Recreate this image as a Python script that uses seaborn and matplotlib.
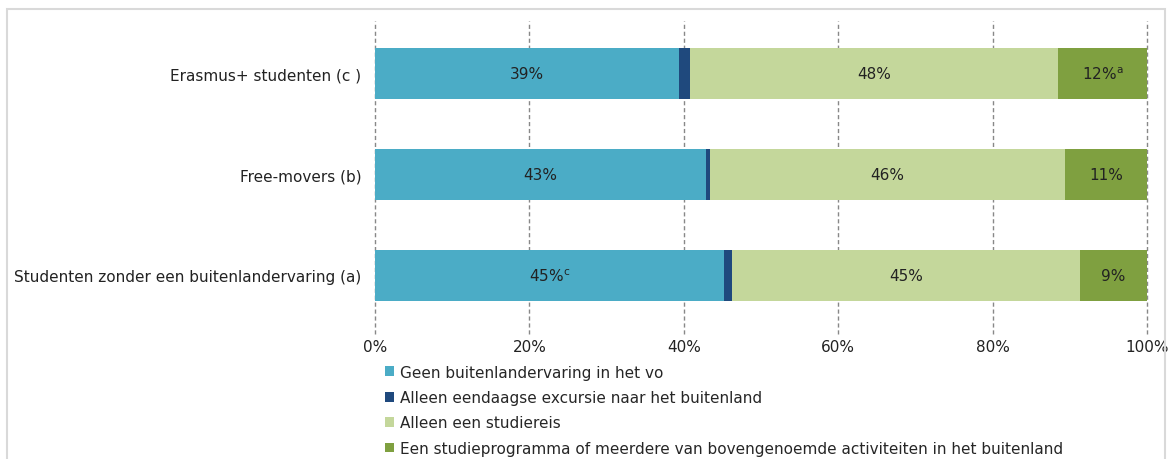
import numpy as np
import pandas as pd
import matplotlib.pyplot as plt
import seaborn as sns
from matplotlib.patches import Patch, Rectangle

# data
groepen = ["Erasmus+ studenten (c )", "Free-movers (b)", "Studenten zonder een buitenlandervaring (a)"]
categorieen = ["Geen buitenlandervaring in het vo",
               "Alleen eendaagse excursie naar het buitenland",
               "Alleen een studiereis",
               "Een studieprogramma of meerdere van bovengenoemde activiteiten in het buitenland"]
geen = [39.4, 42.9, 45.2]
eendaags = [1.4, 0.5, 1.0]
studiereis = [47.7, 46.0, 45.1]
programma = [11.5, 10.6, 8.7]
labels_geen = ["39%", "43%", "45%$^{\\mathrm{c}}$"]
labels_studiereis = ["48%", "46%", "45%"]
labels_programma = ["12%$^{\\mathrm{a}}$", "11%", "9%"]

kleuren = ["#4BACC6", "#1F497D", "#C4D79B", "#7FA040"]

df = pd.DataFrame({"groep": groepen, categorieen[0]: geen, categorieen[1]: eendaags,
                   categorieen[2]: studiereis, categorieen[3]: programma})
cum = df[categorieen].cumsum(axis=1)

sns.set_theme(style="white")
plt.rcParams["font.family"] = ["DejaVu Sans"]

fig = plt.figure(figsize=(11.69, 4.6), dpi=100)
ax = fig.add_axes([0.3208, 0.272, 0.6604, 0.680])

# cumulatieve balken van achter naar voren tekenen
for i in range(len(categorieen) - 1, -1, -1):
    sns.barplot(x=cum[categorieen[i]], y=df["groep"], color=kleuren[i], width=0.5,
                orient="h", ax=ax, saturation=1, linewidth=0, zorder=3)

# waarden in de segmenten
for j in range(len(groepen)):
    ax.text(geen[j] / 2, j, labels_geen[j], ha="center", va="center", fontsize=11, color="#222222", zorder=4)
    start = geen[j] + eendaags[j]
    ax.text(start + studiereis[j] / 2, j, labels_studiereis[j], ha="center", va="center", fontsize=11, color="#222222", zorder=4)
    start2 = start + studiereis[j]
    ax.text(start2 + programma[j] / 2, j, labels_programma[j], ha="center", va="center", fontsize=11, color="#222222", zorder=4)

ax.set_xlim(0, 100)
ax.set_ylim(2.58, -0.52)
ax.set_xticks(np.arange(0, 101, 20))
ax.set_xticklabels([f"{v}%" for v in range(0, 101, 20)], fontsize=11, color="#222222")
ax.tick_params(axis="y", labelsize=11, labelcolor="#222222", pad=10, length=0)
ax.tick_params(axis="x", pad=4, length=0)
ax.set_xlabel("")
ax.set_ylabel("")
for s in ax.spines.values():
    s.set_visible(False)
for v in range(0, 101, 20):
    ax.axvline(v, color="#888888", linestyle=(0, (3, 2)), linewidth=1, zorder=1, clip_on=False)

handles = [Patch(facecolor=k, edgecolor="none") for k in kleuren]
fig.legend(handles, categorieen, loc="upper left", bbox_to_anchor=(0.329, 0.205),
           frameon=False, fontsize=11, handlelength=0.6, handleheight=0.6,
           handletextpad=0.4, labelspacing=0.68, borderaxespad=0, borderpad=0)

# lichtgrijze rand om de grafiek
fig.patches.append(Rectangle((0.006, -0.01), 0.991, 0.988, transform=fig.transFigure,
                             fill=False, edgecolor="#D9D9D9", linewidth=1.5))

plt.savefig("out.png", dpi=100)
